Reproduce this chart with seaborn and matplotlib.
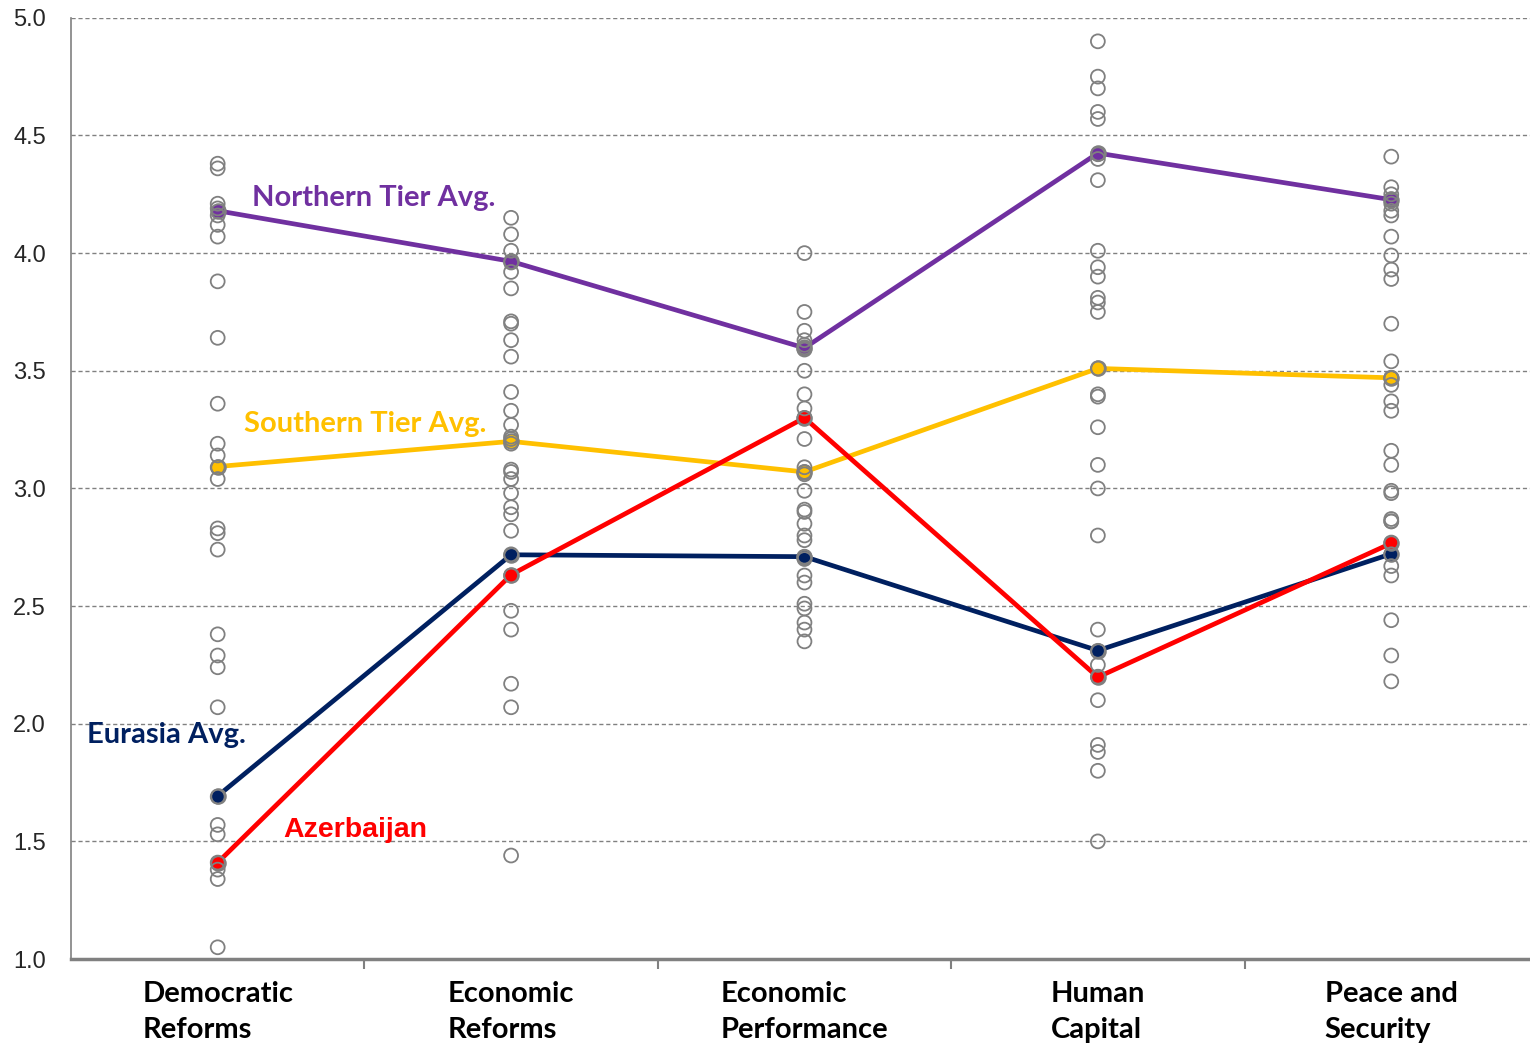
import numpy as np
import pandas as pd
import matplotlib
matplotlib.use("Agg")
import matplotlib.pyplot as plt
import seaborn as sns

categories = ["Democratic\nReforms", "Economic\nReforms", "Economic\nPerformance",
              "Human\nCapital", "Peace and\nSecurity"]

# individual country scores per category (open grey circles)
dem_reforms = [4.38, 4.36, 4.21, 4.19, 4.16, 4.12, 4.07, 3.88, 3.64, 3.36, 3.19, 3.14,
               3.09, 3.04, 2.83, 2.81, 2.74, 2.38, 2.29, 2.24, 2.07, 1.69, 1.57,
               1.53, 1.41, 1.38, 1.34, 1.05]
econ_reforms = [4.15, 4.08, 4.01, 3.96, 3.92, 3.85, 3.71, 3.70, 3.63, 3.56, 3.41, 3.33,
                3.27, 3.22, 3.21, 3.19, 3.08, 3.07, 3.04, 2.98, 2.92, 2.89, 2.82, 2.72,
                2.63, 2.48, 2.40, 2.17, 2.07, 1.44]
econ_perf = [4.00, 3.75, 3.67, 3.63, 3.61, 3.60, 3.59, 3.50, 3.40, 3.34, 3.30, 3.21, 3.09,
             3.07, 3.06, 2.99, 2.91, 2.90, 2.85, 2.80, 2.78, 2.71, 2.70, 2.63, 2.60,
             2.51, 2.49, 2.43, 2.40, 2.35]
human_cap = [4.90, 4.75, 4.70, 4.60, 4.57, 4.42, 4.40, 4.31, 4.01, 3.94, 3.90, 3.81, 3.79,
             3.75, 3.51, 3.40, 3.39, 3.26, 3.10, 3.00, 2.80, 2.40, 2.31, 2.25, 2.20,
             2.10, 1.91, 1.88, 1.80, 1.50]
peace_sec = [4.41, 4.28, 4.25, 4.23, 4.21, 4.18, 4.16, 4.07, 3.99, 3.93, 3.89, 3.70, 3.54,
             3.47, 3.47, 3.44, 3.37, 3.33, 3.16, 3.10, 2.99, 2.98, 2.87, 2.86, 2.86,
             2.77, 2.72, 2.67, 2.63, 2.44, 2.29, 2.18]

northern_tier = [4.18, 3.965, 3.597, 4.425, 4.227]
southern_tier = [3.093, 3.20, 3.07, 3.51, 3.47]
eurasia = [1.693, 2.718, 2.71, 2.311, 2.722]
azerbaijan = [1.41, 2.633, 3.30, 2.198, 2.767]

series = {
    "Northern Tier Avg.": (northern_tier, "#7030A0"),
    "Southern Tier Avg.": (southern_tier, "#FFC000"),
    "Eurasia Avg.": (eurasia, "#002060"),
    "Azerbaijan": (azerbaijan, "#FF0000"),
}

points = pd.DataFrame(
    [(i, v) for i, col in enumerate([dem_reforms, econ_reforms, econ_perf, human_cap, peace_sec])
     for v in col], columns=["pos", "score"])

sns.set_theme(style="white")
plt.rcParams["font.family"] = ["Lato", "DejaVu Sans"]

fig = plt.figure(figsize=(15.3, 10.47), dpi=100)
# axes runs slightly past the right edge, like the original
ax = fig.add_axes([0.0464, 0.084, 0.9588, 0.899])

for name, (vals, col) in series.items():
    sns.lineplot(x=range(len(vals)), y=vals, ax=ax, color=col, linewidth=3.4,
                 marker="o", markersize=10.5, markeredgecolor="#808080",
                 markeredgewidth=1.4, zorder=3, clip_on=False)

sns.scatterplot(data=points, x="pos", y="score", ax=ax, marker="o", s=100,
                facecolor="none", edgecolor="#808080", linewidth=1.3, zorder=4)

ax.set_xlim(-0.5, 4.5)
ax.set_ylim(1.0, 5.0)
ticks = np.arange(1.0, 5.01, 0.5)
ax.set_yticks(ticks)
ax.set_yticklabels([f"{t:.1f}" for t in ticks], fontsize=17,
                   family=["Liberation Sans", "DejaVu Sans"])
ax.yaxis.grid(True, linestyle=(0, (3, 2)), color="#808080", linewidth=1)
ax.set_axisbelow(True)

ax.set_xticks(range(len(categories)))
ax.set_xticklabels(categories, fontsize=21, fontweight="bold", ha="center",
                   multialignment="left", color="black", linespacing=1.45)
ax.set_xticks(np.arange(0.5, 4.0, 1.0), minor=True)
ax.tick_params(axis="x", which="major", length=0, pad=16)
ax.tick_params(axis="x", which="minor", length=7, width=1.5, color="#808080",
               direction="out", bottom=True)
ax.tick_params(axis="y", length=0, pad=18)
ax.set_xlabel("")
ax.set_ylabel("")

for s in ["top", "right"]:
    ax.spines[s].set_visible(False)
ax.spines["left"].set_color("#808080")
ax.spines["left"].set_linewidth(1.2)
ax.spines["bottom"].set_color("#808080")
ax.spines["bottom"].set_linewidth(2.5)

labels = [("Northern Tier Avg.", 0.117, 4.236), ("Southern Tier Avg.", 0.09, 3.275),
          ("Eurasia Avg.", -0.445, 1.952)]
for name, xx, yy in labels:
    ax.text(xx, yy, name, color=series[name][1], fontsize=21, fontweight="bold",
            va="center", ha="left")
ax.text(0.224, 1.548, "Azerbaijan", color=series["Azerbaijan"][1], fontsize=20.5,
        fontweight="bold", va="center", ha="left", family=["Liberation Sans", "DejaVu Sans"])

fig.savefig("out.png", dpi=100)
